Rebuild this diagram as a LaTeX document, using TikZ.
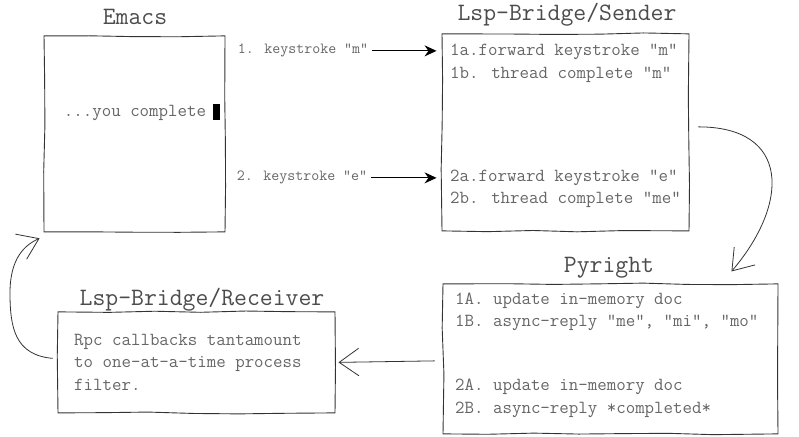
\documentclass[tikz,border=0pt]{standalone}
\usepackage{fontspec}
\usetikzlibrary{arrows.meta,decorations.pathmorphing}

\begin{document}
\begin{tikzpicture}[x=1pt,y=-1pt,
  box/.style={draw=black!80, line width=0.9pt, decorate,
    decoration={random steps,segment length=45pt,amplitude=1.1pt}},
  title/.style={text=black!70, font=\ttfamily\fontsize{25}{28}\selectfont},
  body/.style={text=black!60, inner sep=0pt, align=left,
    font=\ttfamily\fontsize{18.4}{22.5}\selectfont},
  lbl/.style={text=black!60, inner sep=2pt, font=\ttfamily\fontsize{15.5}{18}\selectfont},
  keyarrow/.style={draw=black, line width=1pt, -{Stealth[length=12pt,width=11pt]}},
  flow/.style={draw=black!80, line width=0.8pt, -{Straight Barb[angle=70:24pt, line width=0.8pt]}}]
  \pgfmathsetseed{11}
  \fill[white] (0,0) rectangle (799,434);

  % Emacs
  \node[box, minimum width=181pt, minimum height=196pt] (emacs) at (134.5,131) {};
  \node[title] (emacsT) at (135,14) {Emacs};
  \node[body] (you) at (135,110) {...you complete};
  \node[fill=black, inner sep=0pt, minimum width=7pt, minimum height=16pt] (cursor) at (216.5,109) {};

  % sender
  \node[box, minimum width=247pt, minimum height=197pt] (sender) at (565.5,129.5) {};
  \node[title] (senderT) at (567,12) {Lsp-Bridge/Sender};
  \node[body, anchor=west] (s1) at (450,60.5) {1a.forward keystroke "m"\\1b. thread complete "m"};
  \node[body, anchor=west] (s2) at (450,186) {2a.forward keystroke "e"\\2b. thread complete "me"};

  % pyright
  \node[box, minimum width=335pt, minimum height=150pt] (pyright) at (610.5,356) {};
  \node[title] (pyrightT) at (609,265) {Pyright};
  \node[body, anchor=west] (p1) at (455,309) {1A. update in-memory doc\\1B. async-reply "me", "mi", "mo"};
  \node[body, anchor=west] (p2) at (455,395.5) {2A. update in-memory doc\\2B. async-reply *completed*};

  % receiver
  \node[box, minimum width=277pt, minimum height=101pt] (receiver) at (196.5,359.5) {};
  \node[title] (receiverT) at (202,297) {Lsp-Bridge/Receiver};
  \node[body, anchor=west] (r1) at (74,359.5) {Rpc callbacks tantamount\\to one-at-a-time process\\filter.};

  % keystrokes
  \node[lbl] (k1) at (303,48) {1. keystroke "m"};
  \node[lbl] (k2) at (302,175) {2. keystroke "e"};
  \draw[keyarrow, shorten <=2pt, shorten >=5pt] (k1.east) -- (k1.east -| sender.west);
  \draw[keyarrow, shorten <=2pt, shorten >=5pt] (k2.east) -- (k2.east -| sender.west);

  % round trip
  \draw[flow] ([shift={(9pt,5.5pt)}]sender.east) .. controls (790,124) and (790,200) .. ([shift={(-47pt,12pt)}]pyright.north east);
  \draw[flow] ([shift={(-8pt,-2pt)}]pyright.west) -- ([xshift=3pt]receiver.east);
  \draw[flow] ([shift={(-5pt,4pt)}]receiver.west) .. controls (15,352) and (10,325) .. (10,290)
    .. controls (10,255) and (25,242) .. ([shift={(-4pt,-6pt)}]emacs.south west);
\end{tikzpicture}
\end{document}
